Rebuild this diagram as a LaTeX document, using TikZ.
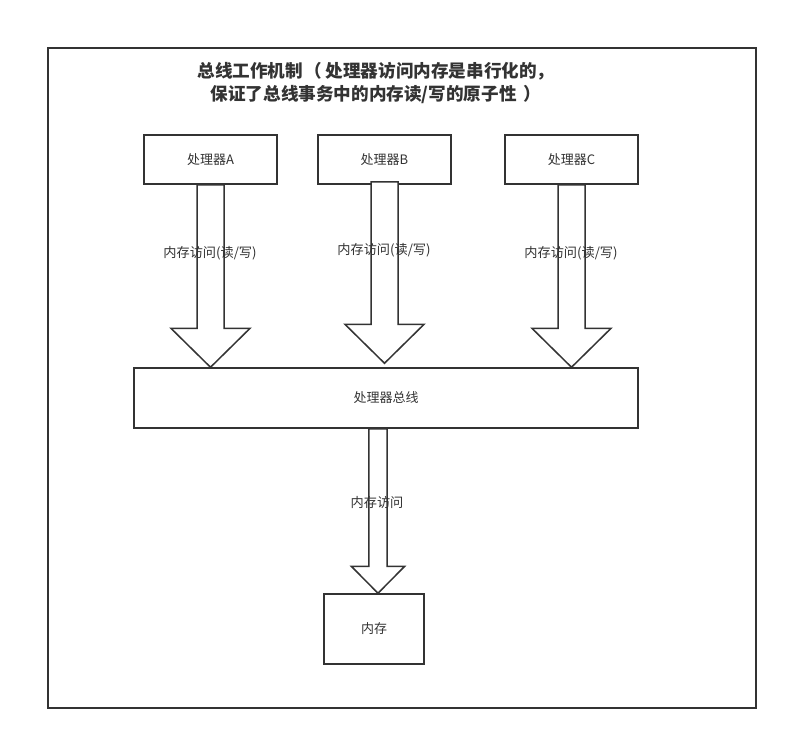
\documentclass[tikz,border=0pt]{standalone}
\usepackage{fontspec}
\setmainfont{Noto Sans CJK SC}
\usetikzlibrary{calc}

\definecolor{inkgray}{HTML}{333333}

\tikzset{
  boxline/.style={draw=inkgray,line width=1.5pt,line join=miter},
  procbox/.style={boxline,rectangle,minimum width=133pt,minimum height=49pt,
    inner sep=0pt,font=\fontsize{13}{15}\selectfont,text=inkgray},
  lbl/.style={inner sep=0pt,font=\fontsize{13.2}{15}\selectfont,text=inkgray}
}

% block arrow: from, to, shaft half width, head half width, head length
\newcommand{\blockarrow}[5]{%
  \draw[boxline,fill=white] let \p1=(#1), \p2=(#2) in
    (\x1-#3,\y1) -- (\x1-#3,\y2+#5) -- (\x1-#4,\y2+#5) -- (\x1,\y2)
    -- (\x1+#4,\y2+#5) -- (\x1+#3,\y2+#5) -- (\x1+#3,\y1) -- cycle;}

\begin{document}
\begin{tikzpicture}[x=1pt,y=-1pt]
  \useasboundingbox (0,0) rectangle (788,740);
  \fill[white] (0,0) rectangle (788,740);

  \node[boxline,rectangle,minimum width=708pt,minimum height=660pt,inner sep=0pt] (frame) at (402,378) {};

  \node[font=\bfseries\fontsize{17.6}{23}\selectfont,text=inkgray,align=center] (title) at (376,83)
    {总线工作机制\kern1pt（\kern4pt处理器访问内存是串行化的，\\保证了总线事务中的内存读/写的原子性\kern7pt）};

  \node[procbox] (pa) at (210.5,159.5) {处理器A};
  \node[procbox] (pb) at (384.5,159.5) {处理器B};
  \node[procbox] (pc) at (571.5,159.5) {处理器C};

  \node[procbox,minimum width=504pt,minimum height=60pt] (bus) at (386,398) {处理器总线};
  \node[procbox,minimum width=100pt,minimum height=70pt] (mem) at (374,629) {内存};

  \blockarrow{pa.south}{bus.north}{13.5}{39.6}{39}
  \blockarrow{[yshift=3pt]pb.south}{[yshift=4pt]bus.north}{13.5}{39.6}{39}
  \blockarrow{pc.south}{bus.north}{13.5}{39.6}{39}
  \blockarrow{[xshift=-8pt]bus.south}{mem.north}{9.2}{26.7}{27}

  \node[lbl] (la) at (210,253) {内存访问(读/写)};
  \node[lbl] (lb) at (384,250) {内存访问(读/写)};
  \node[lbl] (lc) at (571,253) {内存访问(读/写)};
  \node[lbl] (lm) at (377,502) {内存访问};

\end{tikzpicture}
\end{document}
